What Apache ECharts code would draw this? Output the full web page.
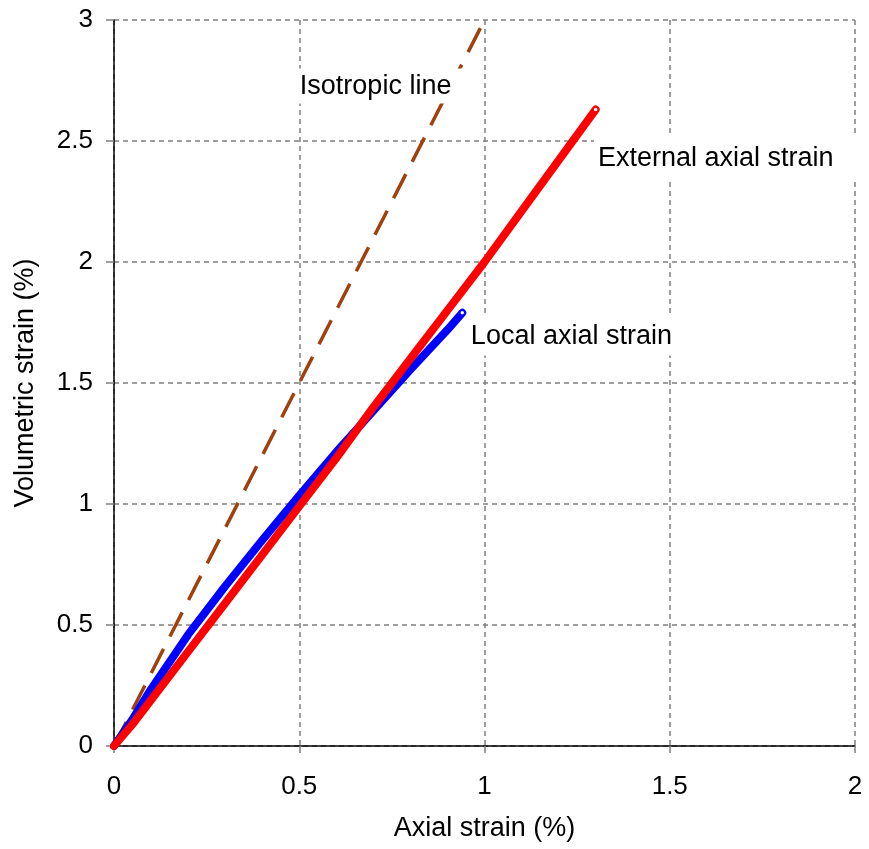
<!DOCTYPE html>
<html>
<head>
<meta charset="utf-8">
<script src="https://cdn.jsdelivr.net/npm/echarts@6/dist/echarts.min.js"></script>
<style>html,body{margin:0;padding:0;background:#fff}#c{width:869px;height:849px}</style>
</head>
<body>
<div id="c"></div>
<script>
// Isotropic line (dashed)
const isoX = [0, 0.99];
const isoY = [0, 2.97];
// External axial strain (red)
const extX = [0, 0.05, 0.1, 0.2, 0.3, 0.4, 0.5, 0.6, 0.7, 0.8, 0.9, 1.0, 1.1, 1.2, 1.3];
const extY = [0, 0.09, 0.19, 0.39, 0.59, 0.79, 0.99, 1.19, 1.40, 1.60, 1.80, 2.00, 2.21, 2.42, 2.63];
// Local axial strain (blue)
const locX = [0, 0.05, 0.1, 0.2, 0.3, 0.4, 0.5, 0.6, 0.7, 0.8, 0.9, 0.94];
const locY = [0, 0.11, 0.235, 0.46, 0.66, 0.85, 1.035, 1.215, 1.385, 1.555, 1.72, 1.79];
// Annotation labels
const labelText = ['Isotropic line', 'External axial strain', 'Local axial strain'];
const labelX = [0.48, 1.2955, 0.947];
const labelY = [2.727, 2.428, 1.694];

const zip = (xs, ys) => xs.map((x, i) => [x, ys[i]]);
const FONT = 'Liberation Sans, Arial, sans-serif';
const chart = echarts.init(document.getElementById('c'), null, {renderer: 'canvas'});
const labelPads = [[4, 12, 4, 8], [6, 25, 14, 4], [6, 8, 6, 6]];

chart.setOption({
  animation: false,
  backgroundColor: '#fff',
  grid: {left: 114, right: 14, top: 20, bottom: 103},
  xAxis: {
    type: 'value', min: 0, max: 2, interval: 0.5,
    name: 'Axial strain (%)', nameLocation: 'middle', nameGap: 69,
    nameTextStyle: {fontFamily: FONT, fontSize: 27, color: '#000'},
    axisLine: {onZero: false, lineStyle: {color: '#000', width: 1.5}},
    axisTick: {show: true, inside: false, length: 7, lineStyle: {color: '#808080', width: 1.5}},
    axisLabel: {fontFamily: FONT, fontSize: 26, color: '#000', margin: 28},
    splitLine: {show: true, lineStyle: {color: '#808080', type: [5, 4], width: 1.5}}
  },
  yAxis: {
    type: 'value', min: 0, max: 3, interval: 0.5,
    name: 'Volumetric strain (%)', nameLocation: 'middle', nameGap: 75,
    nameTextStyle: {fontFamily: FONT, fontSize: 27, color: '#000'},
    axisLine: {show: true, onZero: false, lineStyle: {color: '#000', width: 1.5}},
    axisTick: {show: true, inside: false, length: 8, lineStyle: {color: '#808080', width: 1.5}},
    axisLabel: {fontFamily: FONT, fontSize: 26, color: '#000', margin: 21},
    splitLine: {show: true, lineStyle: {color: '#808080', type: [5, 4], width: 1.5}}
  },
  series: [
    {
      type: 'line', data: zip(isoX, isoY), symbol: 'none', z: 2,
      lineStyle: {color: '#a0410d', width: 3.5, type: [27, 14]}
    },
    {
      type: 'line', data: zip(locX, locY), symbol: 'none', z: 3,
      lineStyle: {color: '#0000ff', width: 8, cap: 'round', join: 'round'}
    },
    {
      type: 'line', data: zip(extX, extY), symbol: 'none', z: 4,
      lineStyle: {color: '#ff0000', width: 8, cap: 'round', join: 'round'}
    },
    {
      type: 'scatter', z: 5, symbol: 'circle', symbolSize: 5,
      data: [
        {value: [locX[locX.length - 1], locY[locY.length - 1]], itemStyle: {color: '#fff', borderColor: '#0000ff', borderWidth: 1.5, opacity: 1}},
        {value: [extX[extX.length - 1], extY[extY.length - 1]], itemStyle: {color: '#fff', borderColor: '#ff0000', borderWidth: 1.5, opacity: 1}}
      ]
    },
    {
      type: 'scatter', z: 10, symbolSize: 0, itemStyle: {color: '#fff', opacity: 1},
      data: labelText.map((t, i) => ({
        value: [labelX[i], labelY[i]],
        label: {
          show: true, position: 'right', distance: 0, formatter: t,
          fontFamily: FONT, fontSize: 27, color: '#000', opacity: 1,
          backgroundColor: '#fff', padding: labelPads[i]
        }
      }))
    }
  ]
});
</script>
</body>
</html>
